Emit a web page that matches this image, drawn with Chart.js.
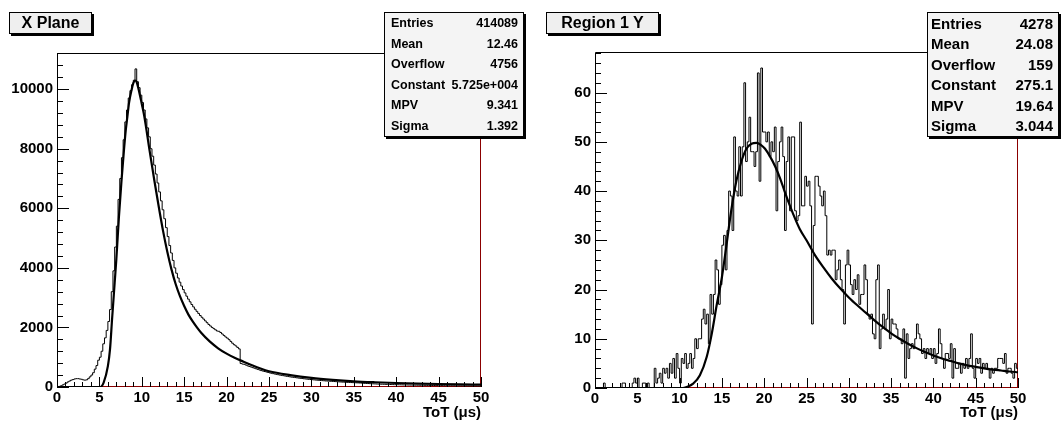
<!DOCTYPE html>
<html>
<head>
<meta charset="utf-8">
<title>ToT spectra</title>
<script src="https://cdn.jsdelivr.net/npm/chart.js@4.4.1/dist/chart.umd.min.js"></script>
<style>
  html, body { margin: 0; padding: 0; background: #fff; }
  body {
    position: relative; width: 1061px; height: 423px; overflow: hidden;
    font-family: "Liberation Sans", Arial, Helvetica, sans-serif; font-weight: bold; color: #000;
  }
  canvas { position: absolute; top: 0; }
  #padX { left: 0; }
  #padY { left: 530px; }
  .title-box {
    position: absolute; top: 12px; height: 20px; line-height: 20px;
    background: #efefef; border: 1px solid #000; box-shadow: 2px 2px 0 #000;
    font-size: 16px; text-align: center; z-index: 2;
  }
  .stats {
    position: absolute; top: 12px; height: 125px; box-sizing: border-box;
    background: #f4f4f4; border: 1px solid #000; box-shadow: 2px 2px 0 #000;
    display: flex; flex-direction: column; z-index: 2;
  }
  .stats .row { flex: 1; display: flex; justify-content: space-between; align-items: center; white-space: nowrap; }
</style>
</head>
<body>
<canvas id="padX" width="530" height="423"></canvas>
<canvas id="padY" width="531" height="423"></canvas>
<div class="title-box" style="left:9px; width:81px;">X Plane</div>
<div class="title-box" style="left:546px; width:111px;">Region 1 Y</div>
<div class="stats" id="statsX" style="left:384px; width:140px; font-size:12.5px; padding:0 5px 0 6px;"></div>
<div class="stats" id="statsY" style="left:927px; width:132px; font-size:15px; padding:0 5px 0 3px;"></div>
<script>
// ToT histograms, 0.2 us bins from 0 to 50 us
const BIN_WIDTH = 0.2;
const X_MAX = 50;
const totTicks = [0, 5, 10, 15, 20, 25, 30, 35, 40, 45, 50];

// --- X Plane ---
const xPlaneCounts = [
  5, 20, 40, 70, 100,        130, 170, 200, 230, 250,
  270, 280, 280, 270, 260,   240, 230, 240, 280, 340,
  400, 480, 600, 720, 900,   1000, 1200, 1450, 1650, 1900,
  2200, 2600, 3200, 3900, 4700,   5400, 6300, 7000, 7700, 8300,
  8900, 9300, 9700, 9950, 10150,  10300, 10680, 10250, 10050, 9800,
  9550, 9300, 9000, 8700, 8400,   8000, 7750, 7450, 7150, 6850,
  6550, 6250, 5950, 5650, 5350,   5050, 4750, 4500, 4250, 4000,
  3820, 3660, 3520, 3390, 3270,   3160, 3050, 2950, 2860, 2770,
  2690, 2610, 2540, 2470, 2400,   2340, 2280, 2220, 2160, 2100,
  2050, 2000, 1960, 1920, 1880,   1870, 1830, 1780, 1730, 1680,
  1640, 1590, 1530, 1470, 1420,   1380, 1330, 1280, 790, 770,
  760, 735, 710, 690, 670,   650, 630, 610, 590, 570,
  550, 535, 520, 505, 490,   475, 460, 448, 436, 424,
  412, 400, 390, 380, 370,   360, 350, 340, 332, 324,
  316, 308, 300, 292, 285,   278, 271, 264, 258, 252,
  246, 240, 234, 229, 224,   219, 214, 209, 204, 200,
  196, 192, 188, 184, 180,   176, 172, 168, 165, 162,
  159, 156, 153, 150, 147,   144, 141, 138, 135, 132,
  128, 124, 120, 116, 113,   110, 107, 104, 101, 98,
  96, 94, 92, 90, 88,   86, 84, 82, 80, 79,
  78, 76, 74, 72, 70,   69, 68, 66, 65, 64,
  62, 61, 60, 59, 58,   57, 56, 55, 54, 53,
  52, 51, 50, 49, 48,   47, 47, 46, 45, 44,
  44, 43, 42, 42, 41,   40, 40, 39, 38, 38,
  37, 37, 36, 35, 35,   34, 34, 33, 33, 32
];
// Landau fit, sampled
const xPlaneFitX = [0, 5.1, 5.5, 6.0, 6.25, 6.5, 6.8, 7.0, 7.3, 7.6, 7.9, 8.1, 8.3, 8.5, 8.8, 9.0, 9.2, 9.4, 9.7,
  10.0, 10.3, 10.9, 11.5, 12.0, 12.5, 13.0, 13.5, 14.0, 14.5, 15.0, 15.5, 16.0, 16.5, 17.0, 18.0, 19.0,
  20.0, 21.0, 22.0, 23.0, 24.0, 25.0, 27.5, 30.0, 32.5, 35.0, 37.5, 40.0, 42.5, 45.0, 47.5, 50.0];
const xPlaneFitY = [0, 0, 150, 700, 1260, 2300, 3500, 4300, 5700, 6900, 7970, 8600, 9080, 9550, 9980, 10200, 10290, 10230, 9900,
  9500, 9080, 7970, 6900, 6050, 5250, 4550, 3950, 3450, 3050, 2720, 2430, 2200, 2000, 1820, 1530, 1300,
  1120, 975, 850, 730, 620, 530, 400, 305, 240, 192, 160, 135, 115, 100, 88, 80];
const xPlaneYTicks = [0, 2000, 4000, 6000, 8000, 10000];
const xPlaneYAxis = { max: 11214, major: 2000, minor: 400 };
const xPlaneStats = [
  ['Entries', '414089'], ['Mean', '12.46'], ['Overflow', '4756'],
  ['Constant', '5.725e+004'], ['MPV', '9.341'], ['Sigma', '1.392']
];

// --- Region 1 Y ---
const region1YCounts = [
  0, 0, 0, 0, 0,   1, 0, 0, 0, 0,
  0, 0, 0, 0, 0,   0, 1, 1, 0, 0,
  0, 0, 1, 2, 1,   2, 0, 0, 1, 1,
  0, 1, 0, 0, 0,   4, 1, 2, 3, 1,
  4, 3, 4, 2, 5,   3, 6, 2, 7, 4,
  1, 6, 5, 7, 4,   5, 7, 4, 6, 10,
  8, 10, 10, 14, 16,   13, 15, 9, 19, 15,
  19, 26, 24, 17, 21,   29, 31, 24, 32, 40,
  39, 32, 51, 40, 39,   49, 39, 49, 62, 46,
  50, 55, 48, 48, 45,   48, 64, 42, 65, 52,
  52, 50, 52, 47, 50,   48, 53, 36, 46, 50,
  53, 47, 32, 46, 51,   36, 51, 51, 36, 34,
  35, 54, 37, 37, 43,   41, 42, 37, 13, 33,
  43, 43, 41, 39, 37,   40, 35, 27, 28, 27,
  28, 28, 22, 24, 26,   22, 20, 13, 25, 28,
  25, 21, 19, 22, 20,   23, 17, 19, 19, 25,
  22, 15, 14, 15, 11,   10, 22, 25, 8, 12,
  15, 12, 14, 20, 10,   14, 13, 13, 12, 10,
  10, 9, 12, 2, 11,   6, 8, 9, 8, 10,
  13, 11, 10, 7, 8,   6, 8, 7, 8, 6,
  8, 5, 7, 12, 9,   6, 4, 7, 7, 6,
  9, 2, 8, 4, 4,   5, 3, 5, 4, 6,
  4, 6, 11, 4, 2,   6, 5, 6, 3, 5,
  4, 5, 4, 2, 4,   3, 4, 4, 6, 6,
  6, 5, 7, 3, 4,   4, 3, 2, 5, 4
];
const region1YFitX = [0, 10.4, 11.0, 11.6, 12.4, 13.2, 13.8, 14.4, 15.0, 15.5, 16.1, 16.7, 17.3, 17.9, 18.5, 19.1,
  19.6, 20.1, 20.7, 21.3, 21.9, 22.4, 23.0, 23.6, 24.2, 25, 26, 27, 28, 29, 30, 31, 32, 33, 34, 35,
  36, 37, 38, 39, 40, 41, 42, 43, 44, 45, 46, 47, 48, 49, 50];
const region1YFitY = [0, 0, 0.3, 0.9, 2.6, 6.3, 11, 17, 22.5, 28.5, 36, 42, 46, 48.6, 49.6, 49.8,
  49.4, 48.6, 47, 45, 42.5, 40, 37.2, 34.6, 32.3, 30, 27, 24.5, 22.2, 20.2, 18.4, 16.8, 15.3, 13.8, 12.4, 11.1,
  10, 9, 8.1, 7.3, 6.6, 6.0, 5.5, 5.0, 4.6, 4.3, 4.0, 3.75, 3.55, 3.35, 3.2];
const region1YYTicks = [0, 10, 20, 30, 40, 50, 60];
const region1YYAxis = { max: 68.25, major: 10, minor: 2 };
const region1YStats = [
  ['Entries', '4278'], ['Mean', '24.08'], ['Overflow', '159'],
  ['Constant', '275.1'], ['MPV', '19.64'], ['Sigma', '3.044']
];

const FONT = '"Liberation Sans", Arial, Helvetica, sans-serif';

// histogram as step points on the low bin edges, plus the closing edge
function histPoints(counts) {
  const pts = counts.map((c, i) => ({ x: i * BIN_WIDTH, y: c }));
  pts.push({ x: X_MAX, y: counts[counts.length - 1] });
  return pts;
}

function fitPoints(xs, ys) {
  return xs.map((x, i) => ({ x, y: ys[i] }));
}

// ROOT-like frame: inward major/minor ticks, dark red right edge and zero line
const rootFrame = {
  id: 'rootFrame',
  beforeDatasetsDraw(chart, args, opts) {
    const { ctx, chartArea: a, scales: { x, y } } = chart;
    ctx.save();
    ctx.lineWidth = 1;

    ctx.strokeStyle = '#000';
    ctx.beginPath();
    ctx.moveTo(a.left + 0.5, a.bottom);
    ctx.lineTo(a.left + 0.5, a.top + 0.5);
    ctx.lineTo(a.right, a.top + 0.5);
    ctx.stroke();

    ctx.strokeStyle = '#8b0000';
    ctx.beginPath();
    ctx.moveTo(a.right - 0.5, a.top);
    ctx.lineTo(a.right - 0.5, a.bottom);
    ctx.moveTo(a.left, a.bottom - 0.5);
    ctx.lineTo(a.right, a.bottom - 0.5);
    ctx.stroke();

    ctx.strokeStyle = '#000';
    ctx.beginPath();
    const nx = Math.round(X_MAX / opts.xMinor);
    for (let i = 0; i <= nx; i++) {
      const px = Math.round(x.getPixelForValue(i * opts.xMinor)) + 0.5;
      const len = (i * opts.xMinor) % opts.xMajor === 0 ? 10 : 5;
      ctx.moveTo(px, a.bottom);
      ctx.lineTo(px, a.bottom - len);
    }
    const ny = Math.floor(opts.yMax / opts.yMinor + 1e-6);
    for (let i = 0; i <= ny; i++) {
      const v = i * opts.yMinor;
      const py = Math.round(y.getPixelForValue(v)) + 0.5;
      const len = v % opts.yMajor === 0 ? 12 : 6;
      ctx.moveTo(a.left, py);
      ctx.lineTo(a.left + len, py);
    }
    ctx.stroke();
    ctx.restore();
  }
};

function makePad(id, p) {
  const tickFont = { family: FONT, size: 15, weight: 'bold' };
  return new Chart(document.getElementById(id), {
    type: 'line',
    data: {
      datasets: [
        {
          data: histPoints(p.counts),
          stepped: 'before',
          borderColor: '#000',
          borderWidth: 1,
          pointRadius: 0,
          fill: false,
        },
        {
          data: fitPoints(p.fitX, p.fitY),
          borderColor: '#000',
          borderWidth: 2.2,
          pointRadius: 0,
          cubicInterpolationMode: 'monotone',
          fill: false,
        },
      ],
    },
    options: {
      responsive: false,
      animation: false,
      events: [],
      layout: { padding: { top: p.top, right: p.right, left: 0, bottom: 0 } },
      plugins: {
        legend: { display: false },
        tooltip: { enabled: false },
        rootFrame: { xMajor: 5, xMinor: 1, yMax: p.yAxis.max, yMajor: p.yAxis.major, yMinor: p.yAxis.minor },
      },
      scales: {
        x: {
          type: 'linear',
          min: 0, max: X_MAX,
          grid: { display: false, drawTicks: false },
          border: { display: false },
          ticks: {
            autoSkip: false, maxRotation: 0, padding: 2,
            color: '#000', font: tickFont,
            callback: (v) => String(v),
          },
          afterBuildTicks: (s) => { s.ticks = totTicks.map((v) => ({ value: v })); },
          title: {
            display: true, text: 'ToT (μs)', align: 'end', color: '#000',
            padding: { top: 0, bottom: 1 },
            font: tickFont,
          },
          afterFit: (s) => { s.height = p.xAxisHeight; },
        },
        y: {
          min: 0, max: p.yAxis.max,
          grid: { display: false, drawTicks: false },
          border: { display: false },
          ticks: {
            autoSkip: false, padding: 4,
            color: '#000', font: tickFont,
            callback: (v) => String(v),
          },
          afterBuildTicks: (s) => { s.ticks = p.yTicks.map((v) => ({ value: v })); },
          afterFit: (s) => { s.width = p.yAxisWidth; },
        },
      },
    },
    plugins: [rootFrame],
  });
}

function fillStats(id, rows) {
  const box = document.getElementById(id);
  rows.forEach(([label, value]) => {
    const row = document.createElement('div');
    row.className = 'row';
    row.innerHTML = `<span>${label}</span><span>${value}</span>`;
    box.appendChild(row);
  });
}

makePad('padX', {
  counts: xPlaneCounts, fitX: xPlaneFitX, fitY: xPlaneFitY,
  yTicks: xPlaneYTicks, yAxis: xPlaneYAxis,
  top: 53, right: 49, yAxisWidth: 57, xAxisHeight: 36,
});
makePad('padY', {
  counts: region1YCounts, fitX: region1YFitX, fitY: region1YFitY,
  yTicks: region1YYTicks, yAxis: region1YYAxis,
  top: 52, right: 43, yAxisWidth: 65, xAxisHeight: 35,
});
fillStats('statsX', xPlaneStats);
fillStats('statsY', region1YStats);
</script>
</body>
</html>
